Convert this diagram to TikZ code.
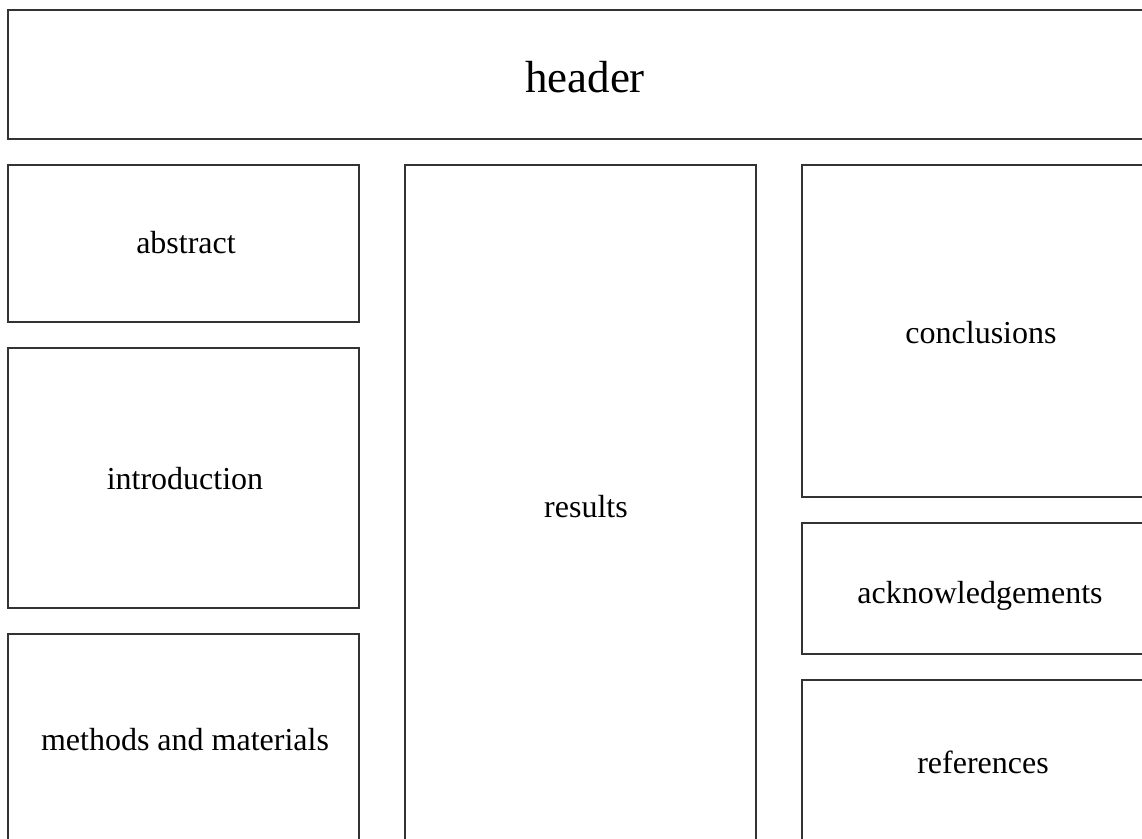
\documentclass[tikz,border=0pt]{standalone}
\usepackage{fontspec}
\setmainfont{Liberation Serif}
\begin{document}
\begin{tikzpicture}[x=1pt,y=-1pt,
    panel/.style={draw=black!80,line width=1.3pt,inner sep=0pt},
    colpanel/.style={panel,minimum width=351pt},
    paneltext/.style={anchor=base,inner sep=0pt,font=\fontsize{32}{38}\selectfont}]
    \useasboundingbox (0,0) rectangle (1142,838);
    \clip (0,0) rectangle (1142,838);
    \node[panel,minimum width=1136pt,minimum height=129pt] (header) at (576,74.5) {};
    \node[paneltext,font=\fontsize{45}{54}\selectfont] (headertxt) at (585,92) {header};
    % left column
    \node[colpanel,minimum height=157pt] (abstract) at (183.5,243.5) {};
    \node[colpanel,minimum height=260pt] (intro) at (183.5,478) {};
    \node[colpanel,minimum height=218pt] (methods) at (183.5,743) {};
    \node[paneltext] (abstracttxt) at (186,253) {abstract};
    \node[paneltext] (introtxt) at (185,489) {introduction};
    \node[paneltext] (methodstxt) at (185,750) {methods and materials};
    % middle column
    \node[colpanel,minimum height=686pt] (results) at (580.5,508) {};
    \node[paneltext] (resultstxt) at (586,517) {results};
    % right column
    \node[panel,minimum width=358pt,minimum height=332pt] (concl) at (981,331) {};
    \node[panel,minimum width=358pt,minimum height=131pt] (ack) at (981,588.5) {};
    \node[panel,minimum width=358pt,minimum height=170pt] (refs) at (981,765) {};
    \node[paneltext] (concltxt) at (981,343) {conclusions};
    \node[paneltext] (acktxt) at (980,603) {acknowledgements};
    \node[paneltext] (refstxt) at (983,773) {references};
\end{tikzpicture}
\end{document}
